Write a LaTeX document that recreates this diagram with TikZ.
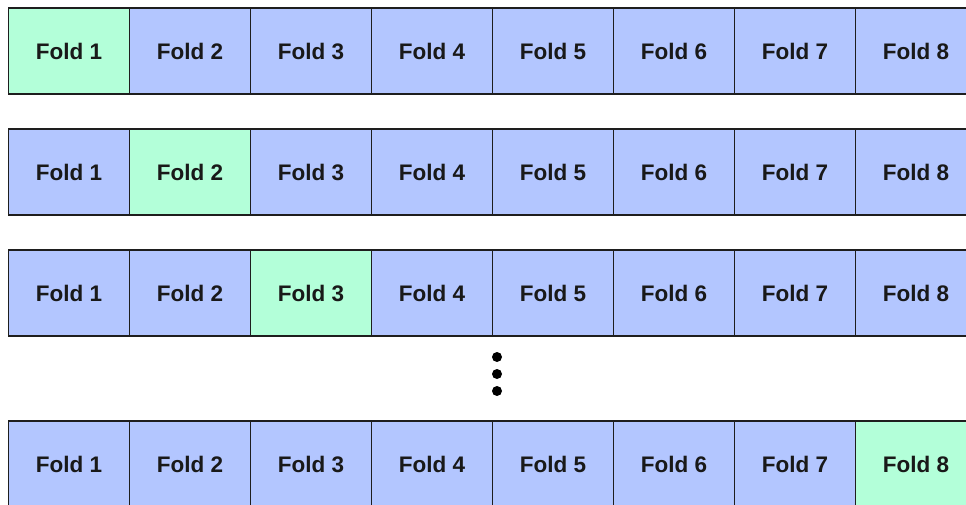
\documentclass[tikz,border=0pt]{standalone}
\usepackage{fontspec}
\setmainfont{Liberation Sans}
\definecolor{foldblue}{RGB}{179,198,255}
\definecolor{foldgreen}{RGB}{179,255,217}
\definecolor{edgegray}{RGB}{30,30,30}
\begin{document}
\begin{tikzpicture}[x=1pt,y=1pt,
  foldcell/.style={draw=edgegray, line width=1.5pt, fill=foldblue, anchor=north west,
    minimum width=121pt, minimum height=86pt, inner sep=0pt, outer sep=0pt,
    font=\fontsize{22.5}{26}\selectfont\bfseries, text=black!90},
  testcell/.style={foldcell, fill=foldgreen},
  dotmark/.style={circle, fill=black, inner sep=0pt, minimum size=10pt}]
\useasboundingbox (0,0) rectangle (966,504);
\clip (0,0) rectangle (966,504);
% rows: top edges at y = 504-8, 504-129, 504-250, 504-421
\foreach \r/\top/\g in {1/496/1, 2/375/2, 3/254/3, 4/83/8} {
  \foreach \c in {1,...,8} {
    \pgfmathsetmacro{\xx}{8.5+121*(\c-1)}
    \ifnum\c=\g
      \node[testcell] (r\r c\c) at (\xx,\top) {Fold \c};
    \else
      \node[foldcell] (r\r c\c) at (\xx,\top) {Fold \c};
    \fi
  }
}
\node[dotmark] (d1) at (497,147) {};
\node[dotmark] (d2) at (497,130) {};
\node[dotmark] (d3) at (497,113) {};
\end{tikzpicture}
\end{document}
